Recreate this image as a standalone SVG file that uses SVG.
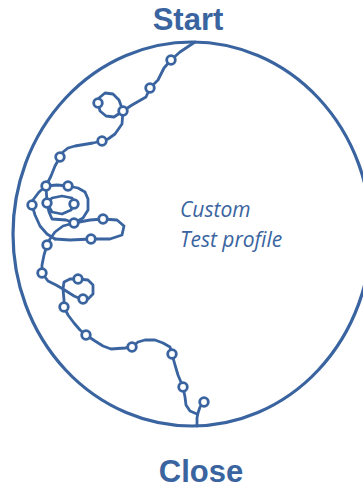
<svg xmlns="http://www.w3.org/2000/svg" width="363" height="489" viewBox="0 0 363 489">
<style>
.title{font-family:"Liberation Sans",Arial,sans-serif;font-weight:700;font-size:31px;fill:#3A64A0;text-anchor:middle}
.lbl{font-family:"Open Sans","Liberation Sans",sans-serif;font-style:italic;font-size:21px;fill:#3A64A0}
.trace{fill:none;stroke:#3A64A0;stroke-width:2.8;stroke-linejoin:round;stroke-linecap:round}
.pt{fill:#fff;stroke:#3A64A0;stroke-width:2.8}
</style>
<rect width="363" height="489" fill="#fff"/>
<g id="profile">
<ellipse cx="192" cy="234" rx="179" ry="192" fill="none" stroke="#3A64A0" stroke-width="3.2"/>
</g>
<g id="connectors">
<path class="trace" d="M195,42 L180,52 L171,60 L164,68 L158,80 L150,88 L146,97 L132,105 L123,111 L119,100 L113,94 L105,93 L99,98 L98,103 L100,111 L106,116 L114,117 L123,111 L122,124 L115,134 L108,139 L102,141 L93,143 L75,146 L68,148 L63,152 L60,157 L55,166 L51,176 L46,186"/>
<path class="trace" d="M46,186 L57,185 L68,186 L78,188 L85,192 L88,199 L88,210 L83,218 L74,223"/>
<path class="trace" d="M46,186 L39,192 L33,200 L32,205 L35,215 L40,226 L47,234 L55,239"/>
<path class="trace" d="M46,186 L47,203 L52,198 L62,196 L72,198 L74,204 L71,210 L62,214 L52,212 L47,203 L49,212 L52,219 L66,220 L74,223 L90,220 L103,219 L117,220 L124,226 L122,235 L110,239 L91,239 L70,240 L55,239"/>
<path class="trace" d="M74,223 L63,226 L55,232 L50,239 L47,245 L44,255 L42,265 L42,273 L48,281 L56,285 L63,289 L64,282 L70,279 L78,279 L88,280 L93,285 L93,294 L88,299 L83,300 L74,296 L63,289 L64,300 L64,307 L68,315 L74,323 L80,330 L86,335 L95,341 L103,346 L111,349 L125,348 L132,347 L138,342 L145,340 L155,340 L163,343 L170,347 L172,354 L175,365 L178,375 L183,387 L185,397 L186,405 L190,411 L197,414"/>
<path class="trace" d="M204,402 L200,407 L198,413 L197,418 L197,426"/>
</g>
<g id="points">
<circle class="pt" cx="171" cy="60" r="4.3"/>
<circle class="pt" cx="150" cy="88" r="4.3"/>
<circle class="pt" cx="123" cy="111" r="4.3"/>
<circle class="pt" cx="98" cy="103" r="4.3"/>
<circle class="pt" cx="102" cy="141" r="4.3"/>
<circle class="pt" cx="60" cy="157" r="4.3"/>
<circle class="pt" cx="46" cy="186" r="4.3"/>
<circle class="pt" cx="68" cy="186" r="4.3"/>
<circle class="pt" cx="32" cy="205" r="4.3"/>
<circle class="pt" cx="47" cy="203" r="4.3"/>
<circle class="pt" cx="74" cy="204" r="4.3"/>
<circle class="pt" cx="74" cy="223" r="4.3"/>
<circle class="pt" cx="103" cy="219" r="4.3"/>
<circle class="pt" cx="91" cy="239" r="4.3"/>
<circle class="pt" cx="47" cy="245" r="4.3"/>
<circle class="pt" cx="42" cy="273" r="4.3"/>
<circle class="pt" cx="78" cy="279" r="4.3"/>
<circle class="pt" cx="83" cy="299" r="4.3"/>
<circle class="pt" cx="64" cy="307" r="4.3"/>
<circle class="pt" cx="86" cy="335" r="4.3"/>
<circle class="pt" cx="132" cy="347" r="4.3"/>
<circle class="pt" cx="172" cy="354" r="4.3"/>
<circle class="pt" cx="183" cy="387" r="4.3"/>
<circle class="pt" cx="204" cy="402" r="4.3"/>
</g>
<g id="start"><text class="title" x="188" y="30">Start</text></g>
<g id="close"><text class="title" x="201" y="482">Close</text></g>
<g id="label">
<text class="lbl" x="180" y="217">Custom</text>
<text class="lbl" x="180" y="247">Test profile</text>
</g>
</svg>
